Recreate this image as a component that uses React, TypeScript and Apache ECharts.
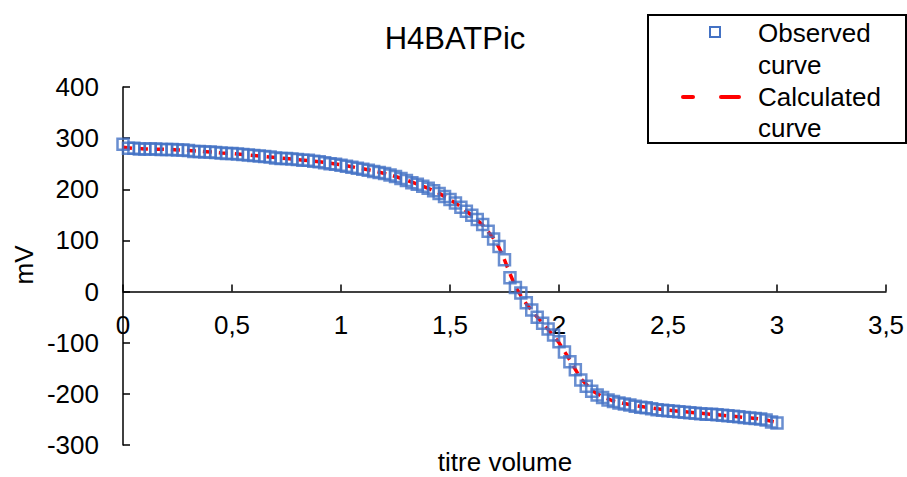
import React, { useEffect, useRef } from "react";
import * as echarts from "echarts";

const titleText = "H4BATPic";
const xAxisTitle = "titre volume";
const yAxisTitle = "mV";
const legendObserved = ["Observed", "curve"];
const legendCalculated = ["Calculated", "curve"];

const obsX = [
  0.0, 0.025, 0.05, 0.075, 0.1, 0.125, 0.15, 0.175, 0.2, 0.225, 0.25, 0.275, 0.3, 0.325, 0.35, 0.375, 0.4, 0.425,
  0.45, 0.475, 0.5, 0.525, 0.55, 0.575, 0.6, 0.625, 0.65, 0.675, 0.7, 0.725, 0.75, 0.775, 0.8, 0.825, 0.85, 0.875,
  0.9, 0.925, 0.95, 0.975, 1.0, 1.025, 1.05, 1.075, 1.1, 1.125, 1.15, 1.175, 1.2, 1.225, 1.25, 1.275, 1.3, 1.325,
  1.35, 1.375, 1.4, 1.425, 1.45, 1.475, 1.5, 1.525, 1.55, 1.575, 1.6, 1.625, 1.65, 1.675, 1.7, 1.725, 1.75, 1.775,
  1.8, 1.825, 1.85, 1.875, 1.9, 1.925, 1.95, 1.975, 2.0, 2.025, 2.05, 2.075, 2.1, 2.125, 2.15, 2.175, 2.2, 2.225,
  2.25, 2.275, 2.3, 2.325, 2.35, 2.375, 2.4, 2.425, 2.45, 2.475, 2.5, 2.525, 2.55, 2.575, 2.6, 2.625, 2.65, 2.675,
  2.7, 2.725, 2.75, 2.775, 2.8, 2.825, 2.85, 2.875, 2.9, 2.925, 2.95, 2.975, 3.0,
];
const obsY = [
  288, 280, 280, 279, 279, 279, 279, 278, 278, 278, 277, 277, 276, 274, 274, 273, 273, 272,
  271, 270, 270, 269, 268, 267, 266, 265, 264, 263, 261, 260, 260, 259, 258, 257, 257, 255,
  254, 252, 250, 249, 247, 245, 243, 241, 239, 237, 235, 233, 231, 228, 225, 221, 217, 213,
  210, 206, 202, 197, 192, 186, 180, 173, 165, 157, 149, 141, 131, 118, 103, 88, 62, 27,
  8, -3, -22, -36, -50, -62, -73, -85, -98, -118, -137, -153, -173, -185, -195, -202, -207, -212,
  -215, -218, -220, -222, -224, -226, -227, -229, -231, -232, -233, -234, -235, -236, -237, -238, -239, -240,
  -240, -241, -242, -243, -244, -245, -246, -247, -248, -249, -251, -255, -257,
];

const calcX = [
  0.0, 0.05, 0.1, 0.15, 0.2, 0.25, 0.3, 0.35, 0.4, 0.45, 0.5, 0.55, 0.6, 0.65, 0.7, 0.75, 0.8, 0.85, 0.9, 0.95,
  1.0, 1.05, 1.1, 1.15, 1.2, 1.25, 1.3, 1.35, 1.4, 1.45, 1.5, 1.55, 1.6, 1.65, 1.7, 1.725, 1.75, 1.775, 1.8, 1.825,
  1.85, 1.9, 1.95, 2.0, 2.05, 2.1, 2.15, 2.2, 2.25, 2.3, 2.35, 2.4, 2.45, 2.5, 2.55, 2.6, 2.65, 2.7, 2.75, 2.8,
  2.85, 2.9, 2.95, 3.0,
];
const calcY = [
  282, 280, 279, 278.5, 278, 277, 276, 274.5, 273, 271, 270, 268, 266, 264, 262, 260, 258, 256, 254, 251,
  248, 244, 240, 236, 231, 225, 218, 210, 202, 192, 180, 166, 149, 130, 104, 86, 62, 35, 10, -8,
  -24, -50, -74, -100, -134, -170, -193, -206, -214, -219, -223, -226, -229, -232, -234, -236, -238, -240, -242, -244,
  -246, -248, -251, -256,
];

const Y_MIN = -300;
const Y_MAX = 400;
const GRID = { left: 123, right: 21, top: 87, bottom: 32 };
const HEIGHT = 477;

const FONT = "'Liberation Sans', Arial, sans-serif";
const BLUE = "#4472C4";
const RED = "#FF0000";

export default function App() {
  const ref = useRef<HTMLDivElement>(null);

  useEffect(() => {
    if (!ref.current) return;
    const chart = echarts.init(ref.current, null, { renderer: "svg" });
    const obsData = obsX.map((x, i) => [x, obsY[i]]);
    const calcData = calcX.map((x, i) => [x, calcY[i]]);

    // distance from grid bottom up to the y=0 line, so the x axis sits on zero
    const plotH = HEIGHT - GRID.top - GRID.bottom;
    const zeroOffset = (plotH * (0 - Y_MIN)) / (Y_MAX - Y_MIN);

    const legendText = (t: string, y: number) => ({
      type: "text",
      x: 758,
      y,
      style: { text: t, font: `26px ${FONT}`, fill: "#000", textAlign: "left", textVerticalAlign: "middle" },
      z: 102,
    });

    chart.setOption({
      animation: false,
      backgroundColor: "#fff",
      grid: { ...GRID, containLabel: false, outerBoundsMode: "none" },
      xAxis: {
        type: "value",
        min: 0,
        max: 3.5,
        interval: 0.5,
        position: "bottom",
        offset: -zeroOffset,
        axisLine: { show: true, onZero: false, lineStyle: { color: "#000", width: 1.5 } },
        axisTick: { show: true, inside: true, length: 7, lineStyle: { color: "#000", width: 1.5 } },
        axisLabel: {
          color: "#000",
          fontSize: 26,
          fontFamily: FONT,
          margin: 20,
          formatter: (v: number) => String(v).replace(".", ","),
        },
        splitLine: { show: false },
      },
      yAxis: {
        type: "value",
        min: Y_MIN,
        max: Y_MAX,
        interval: 100,
        axisLine: { show: true, onZero: false, lineStyle: { color: "#000", width: 1.5 } },
        axisTick: { show: true, inside: true, length: 7, lineStyle: { color: "#000", width: 1.5 } },
        axisLabel: { color: "#000", fontSize: 26, fontFamily: FONT, margin: 24 },
        splitLine: { show: false },
      },
      series: [
        {
          type: "line",
          name: "Calculated curve",
          data: calcData,
          showSymbol: false,
          smooth: false,
          lineStyle: { color: RED, width: 3.5, type: [9, 7] },
          z: 2,
        },
        {
          type: "scatter",
          name: "Observed curve",
          data: obsData,
          symbol: "rect",
          symbolSize: 11,
          itemStyle: { color: "rgba(0,0,0,0)", borderColor: BLUE, borderWidth: 2.5 },
          z: 3,
        },
      ],
      graphic: [
        {
          type: "text",
          x: 455,
          y: 38,
          style: { text: titleText, font: `31px ${FONT}`, fill: "#000", textAlign: "center", textVerticalAlign: "middle" },
        },
        {
          type: "text",
          x: 505,
          y: 462,
          style: { text: xAxisTitle, font: `26px ${FONT}`, fill: "#000", textAlign: "center", textVerticalAlign: "middle" },
        },
        {
          type: "text",
          x: 24,
          y: 265,
          rotation: Math.PI / 2,
          style: { text: yAxisTitle, font: `26px ${FONT}`, fill: "#000", textAlign: "center", textVerticalAlign: "middle" },
        },
        {
          type: "rect",
          shape: { x: 648, y: 15, width: 258, height: 128 },
          style: { fill: "#fff", stroke: "#000", lineWidth: 2 },
          z: 100,
        },
        {
          type: "rect",
          shape: { x: 710, y: 27, width: 10, height: 10 },
          style: { fill: "none", stroke: BLUE, lineWidth: 2 },
          z: 101,
        },
        {
          type: "line",
          shape: { x1: 683, y1: 97, x2: 693, y2: 97 },
          style: { stroke: RED, lineWidth: 4, lineCap: "round" },
          z: 101,
        },
        {
          type: "line",
          shape: { x1: 721, y1: 97, x2: 739, y2: 97 },
          style: { stroke: RED, lineWidth: 4, lineCap: "round" },
          z: 101,
        },
        legendText(legendObserved[0], 33),
        legendText(legendObserved[1], 65),
        legendText(legendCalculated[0], 97),
        legendText(legendCalculated[1], 128),
      ],
    });

    return () => chart.dispose();
  }, []);

  return (
    <div
      ref={ref}
      style={{ position: "fixed", left: 0, top: 0, width: 907, height: 477, background: "#fff" }}
    />
  );
}
